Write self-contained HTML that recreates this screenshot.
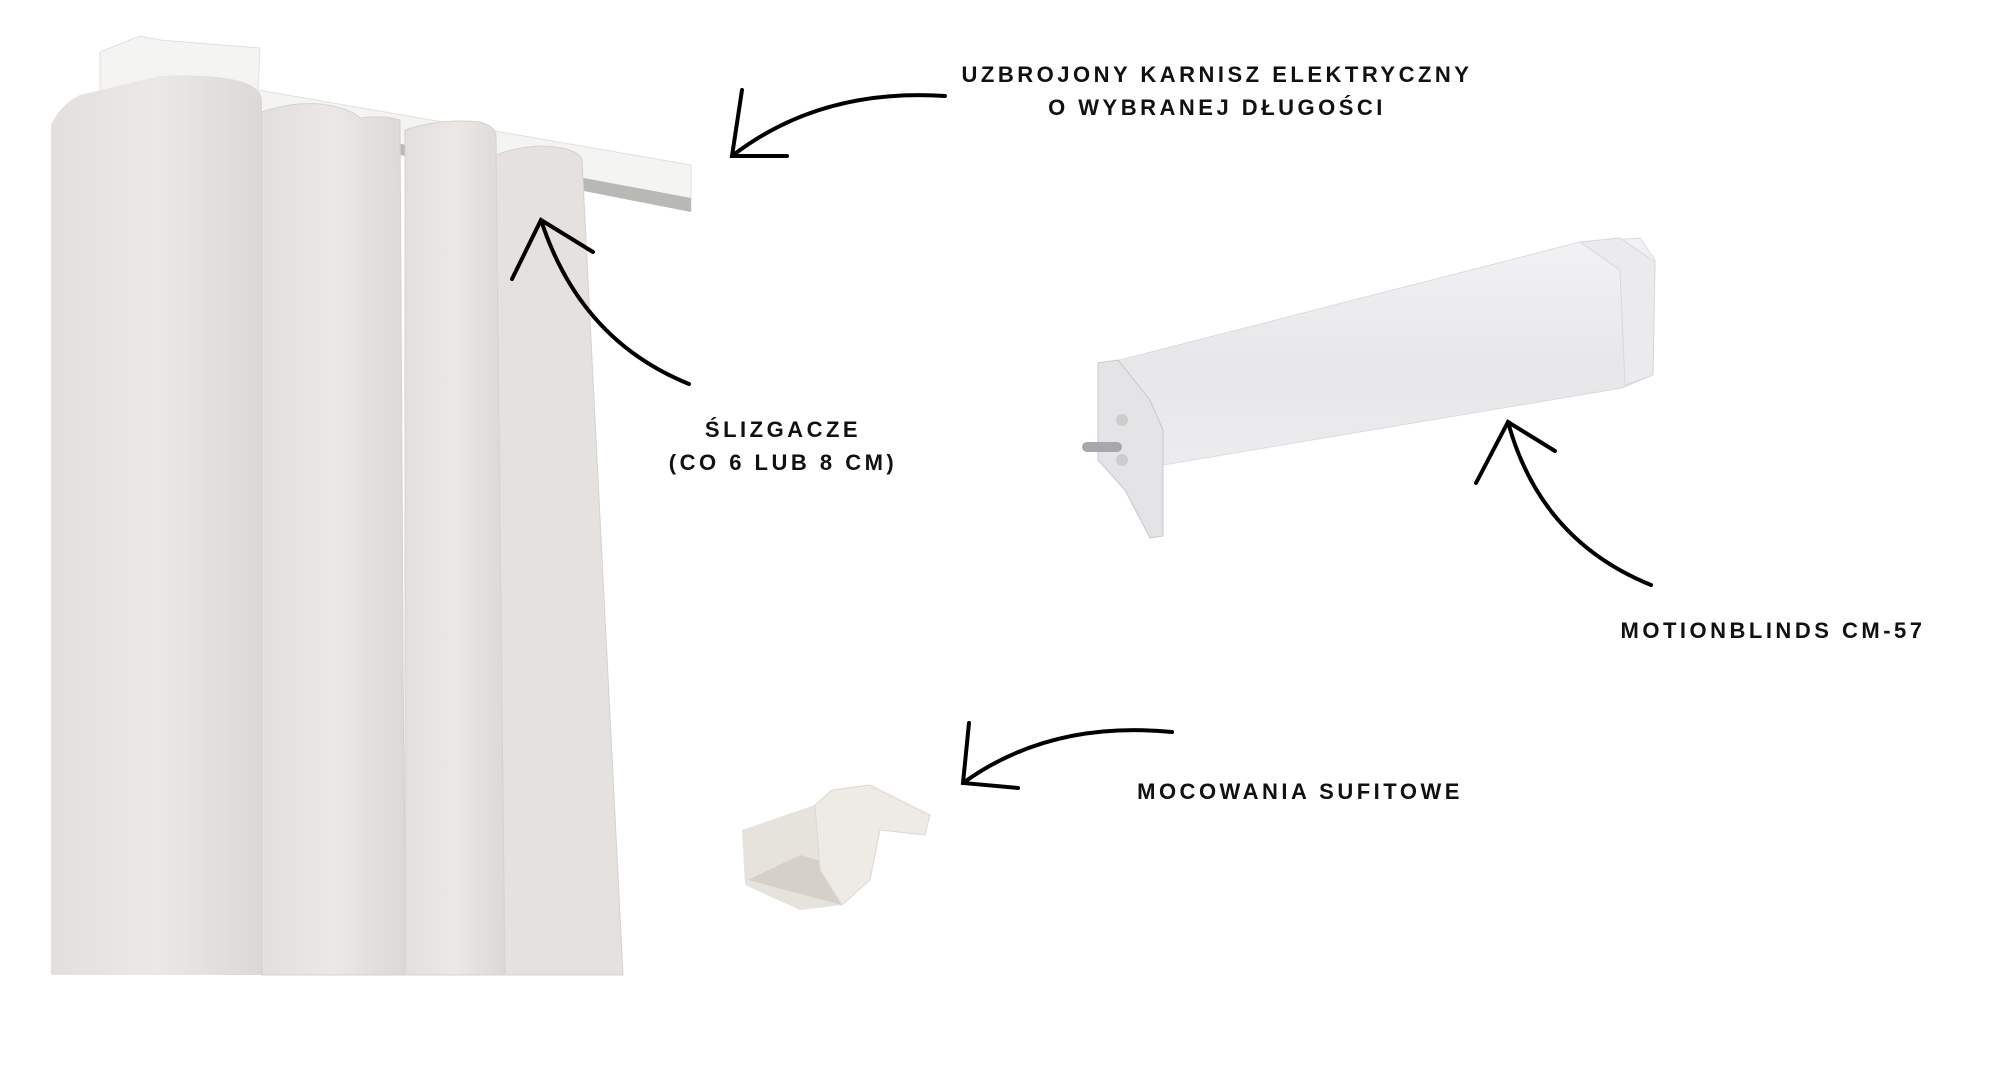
<!DOCTYPE html>
<html><head><meta charset="utf-8"><style>
html,body{margin:0;padding:0;background:#fff;}
body{width:2000px;height:1080px;position:relative;overflow:hidden;font-family:"Liberation Sans",sans-serif;}
.t{position:absolute;font-weight:bold;font-size:22px;letter-spacing:3.5px;color:#111;text-align:center;line-height:33px;white-space:nowrap;transform:translateX(-50%);}
</style></head><body>
<svg width="2000" height="1080" style="position:absolute;left:0;top:0">
<defs>
<linearGradient id="cur" x1="0" x2="1"><stop offset="0" stop-color="#e2dfdd"/><stop offset="0.5" stop-color="#ebe8e6"/><stop offset="1" stop-color="#dcd8d6"/></linearGradient>
<linearGradient id="mot" x1="0" y1="0" x2="0" y2="1"><stop offset="0" stop-color="#f2f2f4"/><stop offset="0.5" stop-color="#e7e7ea"/><stop offset="1" stop-color="#eeeef0"/></linearGradient>
</defs>
<!-- rail -->
<polygon points="100,52 140,36 160,40 260,48 258,90 691,165 691,210 262,115 100,110" fill="#f4f4f2" stroke="#e0e0de"/>
<polygon points="262,118 691,198 691,212 262,128" fill="#b8b8b4"/>
<!-- curtain panels -->
<path d="M51,125 Q60,105 80,95 L160,76 Q260,72 262,100 L262,975 L51,975 Z" fill="url(#cur)"/>
<path d="M262,112 Q290,102 320,104 Q350,108 360,118 Q385,115 400,120 L405,975 L262,975 Z" fill="url(#cur)" stroke="#d6d2d0"/>
<path d="M405,130 Q440,118 480,122 Q495,126 496,135 L505,975 L405,975 Z" fill="url(#cur)" stroke="#d6d2d0"/>
<path d="M496,155 Q530,142 562,148 Q580,152 582,160 L623,975 L505,975 Z" fill="#e4e1df" stroke="#d6d2d0"/>
<!-- motor -->
<polygon points="1112,362 1580,242 1640,238 1655,260 1653,375 1622,388 1163,465 1163,500" fill="url(#mot)" stroke="#dcdcdf"/>
<polygon points="1580,242 1620,238 1655,262 1653,375 1625,385 1620,270" fill="#ebebee" stroke="#d8d8dc"/>
<polygon points="1098,363 1118,360 1150,400 1163,430 1163,536 1150,538 1125,490 1098,460" fill="#e4e4e7" stroke="#c8c8cc"/>
<rect x="1082" y="442" width="40" height="10" rx="5" fill="#a8a8ac"/>
<circle cx="1122" cy="420" r="6" fill="#ccc"/><circle cx="1122" cy="460" r="6" fill="#ccc"/>
<!-- bracket -->
<polygon points="742,830 815,805 820,870 842,905 800,910 745,885" fill="#e6e3dd"/>
<polygon points="748,880 842,905 870,875 800,855" fill="#d5d0c8"/>
<polygon points="815,805 832,790 870,785 930,815 925,835 880,830 870,880 842,905 820,870" fill="#eeebe6" stroke="#dcd8d0"/>
<!-- arrows -->
<g fill="none" stroke="#000" stroke-width="4" stroke-linecap="round">
<path d="M945,96 Q820,88 732,156"/><path d="M742,90 L732,156 L787,156"/>
<path d="M689,384 Q580,340 541,220"/><path d="M512,279 L541,220 L593,252"/>
<path d="M1651,585 Q1540,540 1508,422"/><path d="M1476,483 L1508,422 L1555,451"/>
<path d="M1172,732 Q1050,720 963,783"/><path d="M969,723 L963,783 L1018,788"/>
</g>
</svg>
<div class="t" style="left:1217px;top:58px">UZBROJONY KARNISZ ELEKTRYCZNY<br>O WYBRANEJ DŁUGOŚCI</div>
<div class="t" style="left:783px;top:413px">ŚLIZGACZE<br>(CO 6 LUB 8 CM)</div>
<div class="t" style="left:1773px;top:614px">MOTIONBLINDS CM-57</div>
<div class="t" style="left:1300px;top:775px">MOCOWANIA SUFITOWE</div>
</body></html>
